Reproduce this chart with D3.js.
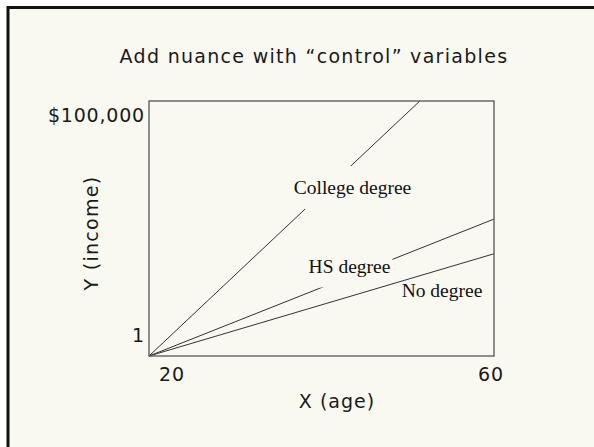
<!DOCTYPE html>
<html>
<head>
<meta charset="utf-8">
<script src="https://cdn.jsdelivr.net/npm/d3@7"></script>
<style>
  html, body { margin: 0; padding: 0; background: #ffffff; }
  #canvas { width: 594px; height: 447px; }
</style>
</head>
<body>
<div id="canvas"></div>
<script>
// chart values
const xTicks = [20, 60];
const yTicks = [1, 100000];
const yTickLabels = ["1", "$100,000"];
const seriesNames = ["College degree", "HS degree", "No degree"];
// each line runs from age 20 / income 1 to its end point
const seriesEndAge = [51.4, 60, 60];
const seriesEndIncome = [100000, 53700, 40100];

const titleText = "Add nuance with \u201ccontrol\u201d variables";
const xTitle = "X (age)";
const yTitle = "Y (income)";

const bg = "#f9f8f1";
const sans = "'DejaVu Sans', sans-serif";
const serif = "'Liberation Serif', 'Times New Roman', serif";

const svg = d3.select("#canvas")
    .append("svg")
    .attr("width", 594)
    .attr("height", 447);

// slide background with dark frame on top / left
svg.append("rect")
    .attr("x", 8).attr("y", 7.5)
    .attr("width", 600).attr("height", 460)
    .attr("fill", bg)
    .attr("stroke", "#111")
    .attr("stroke-width", 3);

const margin = { top: 101, left: 149 },
    width = 345,
    height = 255;

const x = d3.scaleLinear().domain([20, 60]).range([margin.left, margin.left + width]);
const y = d3.scaleLinear().domain([1, 100000]).range([margin.top + height, margin.top]);

function sansText(sel, ls) {
    return sel.attr("font-family", sans)
        .attr("font-size", 19)
        .attr("letter-spacing", ls)
        .attr("fill", "#1a1a1a");
}

// title
svg.append("text")
    .attr("x", 314).attr("y", 63)
    .attr("text-anchor", "middle")
    .call(sansText, 1.3)
    .text(titleText);

// lines
const line = d3.line().x(d => x(d[0])).y(d => y(d[1]));
const g = svg.append("g");

// label boxes hide part of their own line
const labelSpecs = [
    { cx: 352.5, by: 194, pad: [2, 11], mask: true },
    { cx: 349.5, by: 272.5, pad: [2, 11], mask: true },
    { cx: 442, by: 297, pad: [0, 0], mask: false }
];

seriesNames.forEach((name, i) => {
    g.append("path")
        .datum([[20, 1], [seriesEndAge[i], seriesEndIncome[i]]])
        .attr("fill", "none")
        .attr("stroke", "#333")
        .attr("stroke-width", 1)
        .attr("d", line);

    const s = labelSpecs[i];
    const lab = g.append("g");
    const t = lab.append("text")
        .attr("x", s.cx).attr("y", s.by)
        .attr("text-anchor", "middle")
        .attr("font-family", serif)
        .attr("font-size", 19.5)
        .attr("fill", "#111")
        .text(name);
    if (s.mask) {
        const b = t.node().getBBox();
        lab.insert("rect", "text")
            .attr("x", b.x - s.pad[0]).attr("y", b.y - s.pad[1])
            .attr("width", b.width + 2 * s.pad[0])
            .attr("height", b.height + 2 * s.pad[1])
            .attr("fill", bg);
    }
});

// plot frame
svg.append("rect")
    .attr("x", margin.left).attr("y", margin.top)
    .attr("width", width).attr("height", height)
    .attr("fill", "none")
    .attr("stroke", "#555")
    .attr("stroke-width", 1.3);

// y tick labels
svg.append("g")
    .selectAll("text")
    .data(yTicks)
    .join("text")
    .attr("x", margin.left - 4)
    .attr("y", (d, i) => i === 0 ? y(d) - 14 : y(d) + 21)
    .attr("text-anchor", "end")
    .call(sansText, 0.8)
    .text((d, i) => yTickLabels[i]);

// x tick labels
svg.append("g")
    .selectAll("text")
    .data(xTicks)
    .join("text")
    .attr("x", (d, i) => i === 0 ? x(d) + 23 : x(d) - 3)
    .attr("y", margin.top + height + 25)
    .attr("text-anchor", "middle")
    .call(sansText, 1)
    .text(d => d);

// axis titles
svg.append("text")
    .attr("x", 337).attr("y", 408)
    .attr("text-anchor", "middle")
    .call(sansText, 1)
    .text(xTitle);

svg.append("text")
    .attr("transform", "translate(98,233) rotate(-90)")
    .attr("text-anchor", "middle")
    .call(sansText, 1.3)
    .text(yTitle);
</script>
</body>
</html>
